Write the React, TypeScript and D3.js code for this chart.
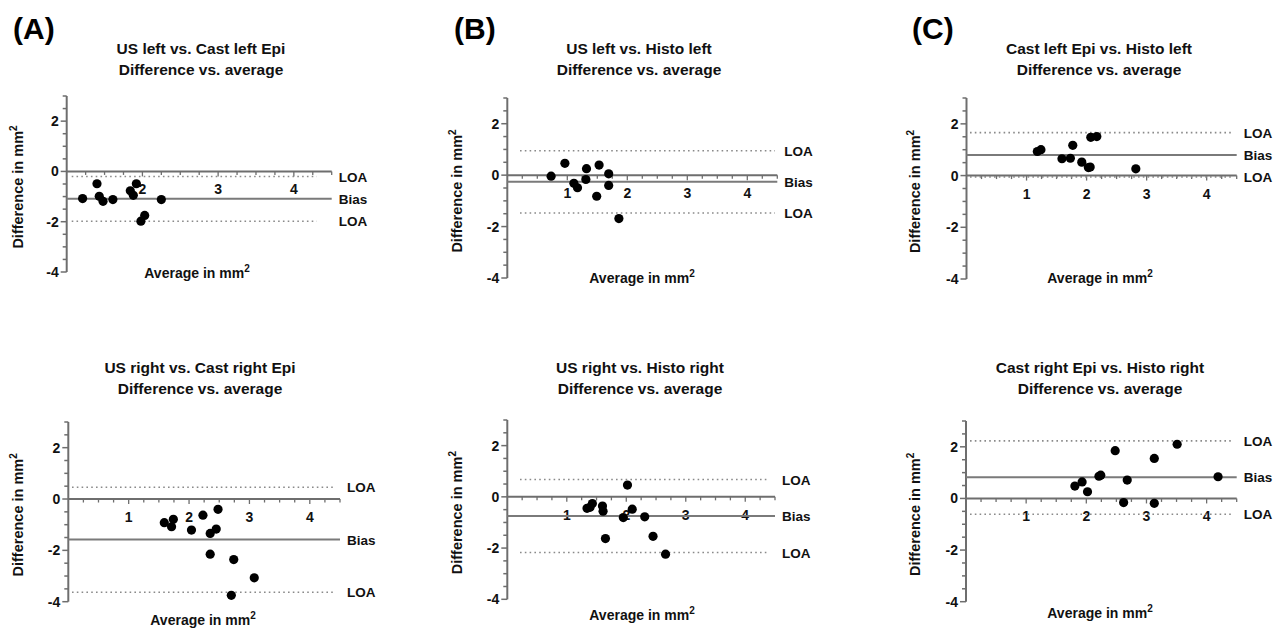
import React, { useEffect, useRef } from 'react';
import * as d3 from 'd3';

const FONT = '"Liberation Sans", Arial, Helvetica, sans-serif';

// Panel letters and titles
const panelLetters = ['(A)', '(B)', '(C)'];
const panelTitles = [
  'US left vs. Cast left Epi',
  'US left vs. Histo left',
  'Cast left Epi vs. Histo left',
  'US right vs. Cast right Epi',
  'US right vs. Histo right',
  'Cast right Epi vs. Histo right',
];
const subTitle = 'Difference vs. average';

// Axis ticks
const yTickLabels = [2, 0, -2, -4];
const xTickLabels = [1, 2, 3, 4];

// Points (average, difference)
const avgUsCastLeft = [1.21, 1.40, 1.43, 1.48, 1.61, 1.84, 1.88, 1.92, 1.98, 2.03, 2.25];
const diffUsCastLeft = [-1.08, -0.49, -0.99, -1.19, -1.12, -0.77, -0.95, -0.49, -1.98, -1.75, -1.12];

const avgUsHistoLeft = [0.73, 0.96, 1.11, 1.17, 1.31, 1.32, 1.49, 1.53, 1.69, 1.69, 1.86];
const diffUsHistoLeft = [-0.04, 0.46, -0.32, -0.49, -0.17, 0.25, -0.82, 0.39, 0.05, -0.40, -1.69];

const avgCastHistoLeft = [1.18, 1.24, 1.59, 1.73, 1.77, 1.92, 2.03, 2.06, 2.07, 2.17, 2.82];
const diffCastHistoLeft = [0.93, 1.0, 0.65, 0.67, 1.17, 0.52, 0.31, 0.33, 1.48, 1.51, 0.26];

const avgUsCastRight = [1.59, 1.71, 1.74, 2.04, 2.23, 2.35, 2.35, 2.45, 2.48, 2.74, 2.70, 3.08];
const diffUsCastRight = [-0.92, -1.08, -0.79, -1.21, -0.63, -1.34, -2.15, -1.17, -0.40, -2.36, -3.75, -3.07];

const avgUsHistoRight = [1.34, 1.39, 1.43, 1.60, 1.61, 1.65, 1.95, 2.02, 2.10, 2.31, 2.45, 2.66];
const diffUsHistoRight = [-0.45, -0.41, -0.26, -0.36, -0.56, -1.63, -0.81, 0.46, -0.48, -0.78, -1.54, -2.24];

const avgCastHistoRight = [1.81, 1.93, 2.02, 2.21, 2.24, 2.48, 2.62, 2.68, 3.13, 3.13, 3.51, 4.19];
const diffCastHistoRight = [0.48, 0.64, 0.26, 0.86, 0.90, 1.85, -0.16, 0.71, 1.55, -0.19, 2.10, 0.84];

const panelAvgs = [avgUsCastLeft, avgUsHistoLeft, avgCastHistoLeft, avgUsCastRight, avgUsHistoRight, avgCastHistoRight];
const panelDiffs = [diffUsCastLeft, diffUsHistoLeft, diffCastHistoLeft, diffUsCastRight, diffUsHistoRight, diffCastHistoRight];

// Bias and limits of agreement
const biasValues = [-1.09, -0.26, 0.80, -1.58, -0.75, 0.82];
const loaUpper = [-0.20, 0.95, 1.66, 0.46, 0.68, 2.23];
const loaLower = [-1.98, -1.47, -0.05, -3.63, -2.17, -0.61];

// Layout per panel (pixel positions)
const layouts = [
  { left: 66.7, right: 331.7, top: 96, bottom: 272, xMin: 1, dotFrom: 71.7, dotTo: 316.7, titleX: 201, titleY: 54, xLabelX: 197, xLabelY: 278, yLabelX: 18 },
  { left: 507.3, right: 777.3, top: 98, bottom: 278, xMin: 0, dotFrom: 520, dotTo: 775, titleX: 639, titleY: 54, xLabelX: 642, xLabelY: 283, yLabelX: 457 },
  { left: 966.5, right: 1236.7, top: 98, bottom: 279, xMin: 0, dotFrom: 970, dotTo: 1231.7, titleX: 1099, titleY: 54, xLabelX: 1100, xLabelY: 283, yLabelX: 915 },
  { left: 68.3, right: 340, top: 422, bottom: 601.7, xMin: 0, dotFrom: 72, dotTo: 335, titleX: 200, titleY: 373, xLabelX: 203, xLabelY: 625, yLabelX: 18 },
  { left: 507.3, right: 775, top: 420, bottom: 599.3, xMin: 0, dotFrom: 520, dotTo: 768, titleX: 640, titleY: 373, xLabelX: 642, xLabelY: 620, yLabelX: 457 },
  { left: 966, right: 1236.7, top: 421, bottom: 601.7, xMin: 0, dotFrom: 970, dotTo: 1231.7, titleX: 1100, titleY: 373, xLabelX: 1100, xLabelY: 618, yLabelX: 915 },
];
const letterX = [13, 454, 912];

const AXIS_COLOR = '#6e6e6e';
const LINE_COLOR = '#7a7a7a';
const DOT_COLOR = '#8a8a8a';

const App = () => {
  const svgRef = useRef(null);

  useEffect(() => {
    const svg = d3.select(svgRef.current);
    svg.selectAll('*').remove();

    // Panel letters
    panelLetters.forEach((letter, i) => {
      svg.append('text')
        .attr('x', letterX[i])
        .attr('y', 39)
        .style('font-family', FONT)
        .style('font-size', '30px')
        .style('font-weight', 'bold')
        .style('fill', '#000')
        .text(letter);
    });

    layouts.forEach((lay, p) => {
      const g = svg.append('g');
      const x = d3.scaleLinear().domain([lay.xMin, 4.5]).range([lay.left, lay.right]);
      const y = d3.scaleLinear().domain([-4, 3]).range([lay.bottom, lay.top]);
      const y0 = y(0);

      // Titles
      [panelTitles[p], subTitle].forEach((t, k) => {
        g.append('text')
          .attr('x', lay.titleX)
          .attr('y', lay.titleY + k * 21)
          .attr('text-anchor', 'middle')
          .style('font-family', FONT)
          .style('font-size', '15.5px')
          .style('font-weight', 'bold')
          .style('fill', '#111')
          .text(t);
      });

      // Y axis line + ticks
      g.append('line')
        .attr('x1', lay.left).attr('x2', lay.left)
        .attr('y1', y(3)).attr('y2', y(-4))
        .attr('stroke', AXIS_COLOR).attr('stroke-width', 2);
      d3.range(-8, 7).forEach(k => {
        const v = k / 2;
        const major = yTickLabels.includes(v);
        g.append('line')
          .attr('x1', lay.left - (major ? 6 : 4)).attr('x2', lay.left)
          .attr('y1', y(v)).attr('y2', y(v))
          .attr('stroke', AXIS_COLOR).attr('stroke-width', 1.5);
      });
      yTickLabels.forEach(v => {
        g.append('text')
          .attr('x', lay.left - 8)
          .attr('y', y(v))
          .attr('dy', '0.36em')
          .attr('text-anchor', 'end')
          .style('font-family', FONT)
          .style('font-size', '14px')
          .style('font-weight', 'bold')
          .style('fill', '#111')
          .text(v);
      });

      // X axis at zero + ticks
      g.append('line')
        .attr('x1', lay.left).attr('x2', lay.right)
        .attr('y1', y0).attr('y2', y0)
        .attr('stroke', AXIS_COLOR).attr('stroke-width', 2);
      d3.range(lay.xMin * 4 + 1, 19).forEach(k => {
        const v = k / 4;
        const major = Number.isInteger(v);
        g.append('line')
          .attr('x1', x(v)).attr('x2', x(v))
          .attr('y1', y0).attr('y2', y0 + (major ? 5 : 3.5))
          .attr('stroke', AXIS_COLOR).attr('stroke-width', 1.3);
      });
      xTickLabels.filter(v => v > lay.xMin).forEach(v => {
        g.append('text')
          .attr('x', x(v))
          .attr('y', y0 + 23)
          .attr('text-anchor', 'middle')
          .style('font-family', FONT)
          .style('font-size', '14px')
          .style('font-weight', 'bold')
          .style('fill', '#111')
          .text(v);
      });

      // Bias line
      g.append('line')
        .attr('x1', lay.left).attr('x2', lay.right)
        .attr('y1', y(biasValues[p])).attr('y2', y(biasValues[p]))
        .attr('stroke', LINE_COLOR).attr('stroke-width', 2);

      // Limits of agreement
      [loaUpper[p], loaLower[p]].forEach(v => {
        g.append('line')
          .attr('x1', lay.dotFrom).attr('x2', lay.dotTo)
          .attr('y1', y(v)).attr('y2', y(v))
          .attr('stroke', DOT_COLOR).attr('stroke-width', 1.6)
          .attr('stroke-dasharray', '1.6,3.2');
      });

      // Line labels
      [
        { v: loaUpper[p], t: 'LOA' },
        { v: biasValues[p], t: 'Bias' },
        { v: loaLower[p], t: 'LOA' },
      ].forEach(d => {
        g.append('text')
          .attr('x', lay.right + 7)
          .attr('y', y(d.v))
          .attr('dy', '0.38em')
          .style('font-family', FONT)
          .style('font-size', '13.5px')
          .style('font-weight', 'bold')
          .style('fill', '#111')
          .text(d.t);
      });

      // Points
      g.selectAll('.pt')
        .data(panelAvgs[p].map((a, i) => ({ a, d: panelDiffs[p][i] })))
        .enter()
        .append('circle')
        .attr('class', 'pt')
        .attr('cx', d => x(d.a))
        .attr('cy', d => y(d.d))
        .attr('r', 4.6)
        .attr('fill', '#000');

      // X axis title
      const xt = g.append('text')
        .attr('x', lay.xLabelX)
        .attr('y', lay.xLabelY)
        .attr('text-anchor', 'middle')
        .style('font-family', FONT)
        .style('font-size', '14px')
        .style('font-weight', 'bold')
        .style('fill', '#111');
      xt.append('tspan').text('Average in mm');
      xt.append('tspan').attr('dy', -6).style('font-size', '10px').text('2');

      // Y axis title
      const yMid = (lay.top + lay.bottom) / 2 + 3;
      const yt = g.append('text')
        .attr('transform', `translate(${lay.yLabelX + 5}, ${yMid}) rotate(-90)`)
        .attr('text-anchor', 'middle')
        .style('font-family', FONT)
        .style('font-size', '14.5px')
        .style('font-weight', 'bold')
        .style('fill', '#111');
      yt.append('tspan').text('Difference in mm');
      yt.append('tspan').attr('dy', -6).style('font-size', '10px').text('2');
    });
  }, []);

  return (
    <svg
      ref={svgRef}
      width={1284}
      height={632}
      style={{ position: 'absolute', left: 0, top: 0, background: '#fff' }}
    />
  );
};

export default App;
